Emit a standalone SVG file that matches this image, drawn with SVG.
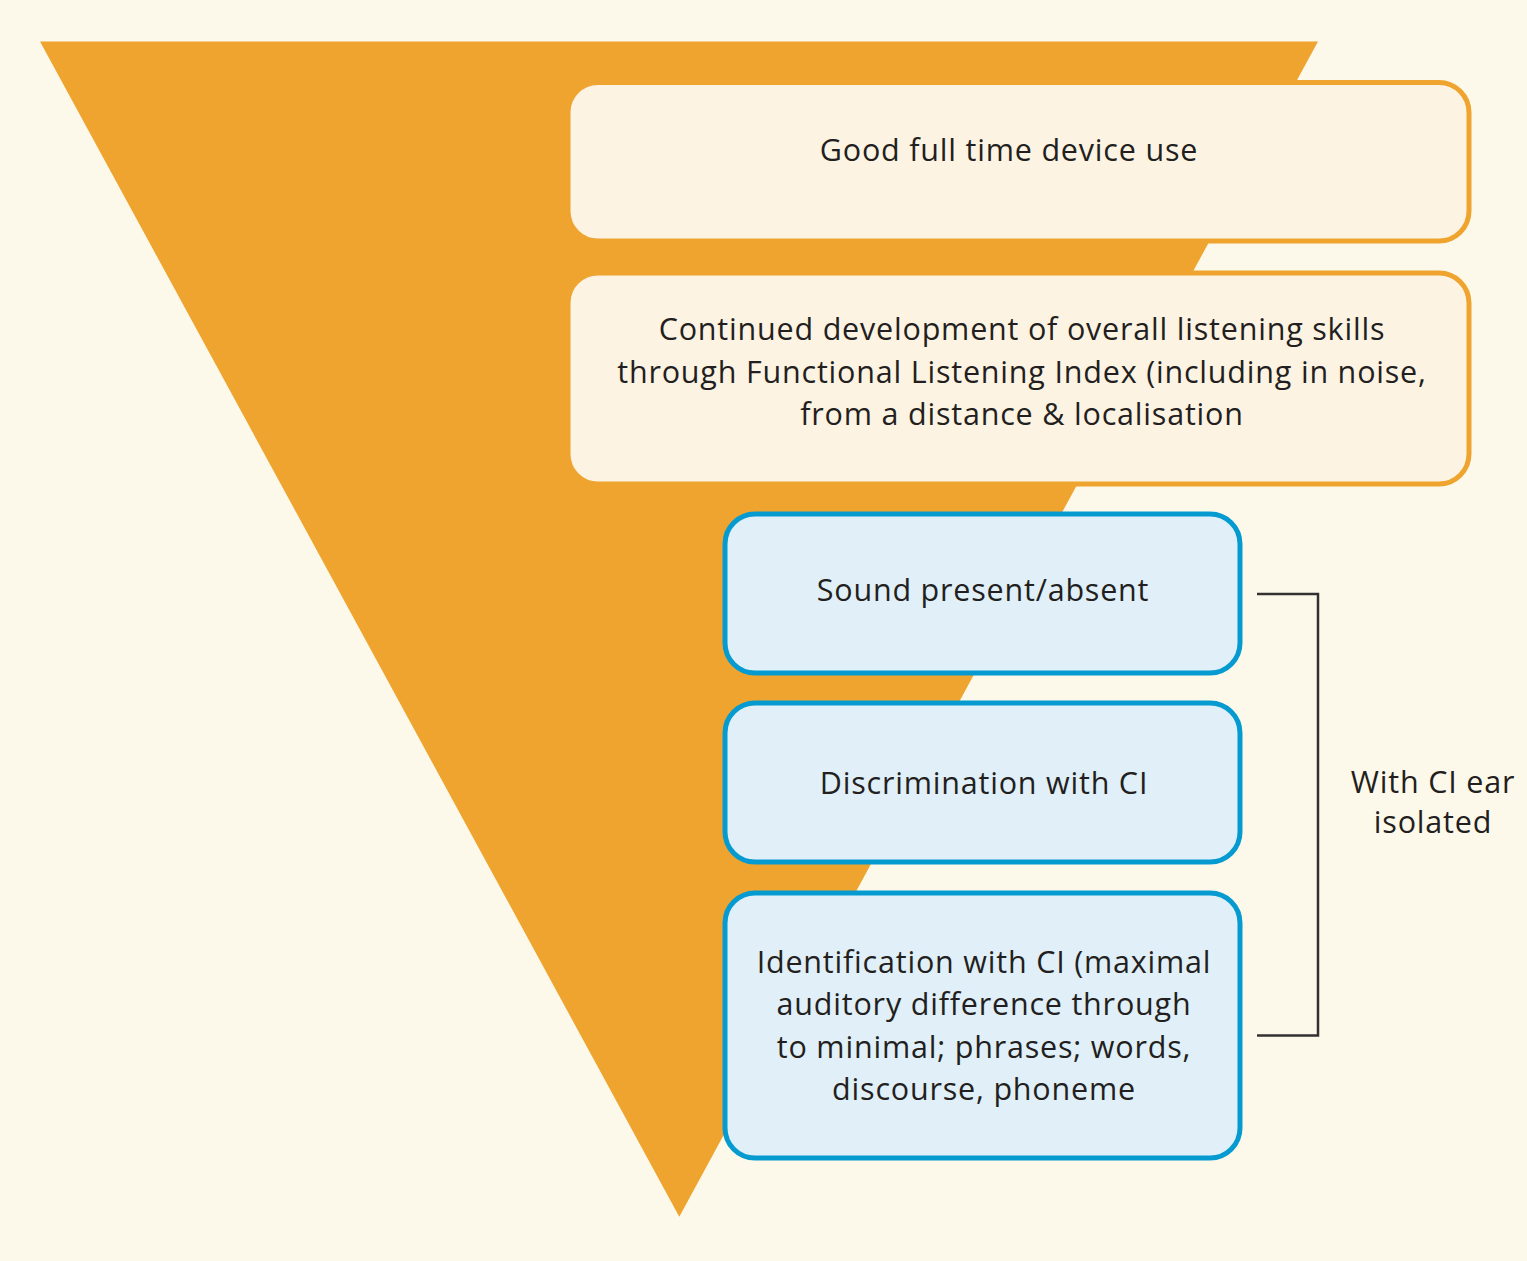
<svg xmlns="http://www.w3.org/2000/svg" width="1527" height="1261" viewBox="0 0 1527 1261">
  <style>
    .lbl { font-family: "Open Sans", "Noto Sans", "Liberation Sans", sans-serif; font-size: 30.5px; letter-spacing: 0.8px; fill: #231f20; text-anchor: middle; }
    .warm { fill: #fdf3e3; stroke: #eea42e; stroke-width: 5; }
    .cool { fill: #e0eff8; stroke: #059bd0; stroke-width: 5; }
    .bracket { fill: none; stroke: #333132; stroke-width: 2.5; }
  </style>
  <rect width="1527" height="1261" fill="#fdf9ea"/>
  <!-- inverted triangle backdrop -->
  <polygon points="40,41.5 1318,41.5 679.3,1216.7" fill="#eea42e"/>

  <g id="device-use">
    <rect class="warm" x="568" y="82.5" width="901" height="158.5" rx="30"/>
    <text class="lbl" x="1009" y="161">Good full time device use</text>
  </g>

  <g id="listening-skills">
    <rect class="warm" x="568" y="273" width="901" height="211" rx="30"/>
    <text class="lbl" x="1022" y="340">Continued development of overall listening skills</text>
    <text class="lbl" x="1022" y="383">through Functional Listening Index (including in noise,</text>
    <text class="lbl" x="1022" y="425">from a distance &amp; localisation</text>
  </g>

  <g id="sound-present">
    <rect class="cool" x="725" y="514" width="515" height="159" rx="30"/>
    <text class="lbl" x="983" y="601">Sound present/absent</text>
  </g>

  <g id="discrimination">
    <rect class="cool" x="725" y="703" width="515" height="159" rx="30"/>
    <text class="lbl" x="984" y="794">Discrimination with CI</text>
  </g>

  <g id="identification">
    <rect class="cool" x="725" y="893" width="515" height="265" rx="30"/>
    <text class="lbl" x="984" y="973">Identification with CI (maximal</text>
    <text class="lbl" x="984" y="1015">auditory difference through</text>
    <text class="lbl" x="984" y="1058">to minimal; phrases; words,</text>
    <text class="lbl" x="984" y="1100">discourse, phoneme</text>
  </g>

  <g id="connectors">
    <polyline class="bracket" points="1257,594 1318,594 1318,1035.5 1257,1035.5"/>
  </g>

  <g id="ci-ear-isolated">
    <text class="lbl" x="1433" y="793">With CI ear</text>
    <text class="lbl" x="1433" y="833">isolated</text>
  </g>
</svg>
